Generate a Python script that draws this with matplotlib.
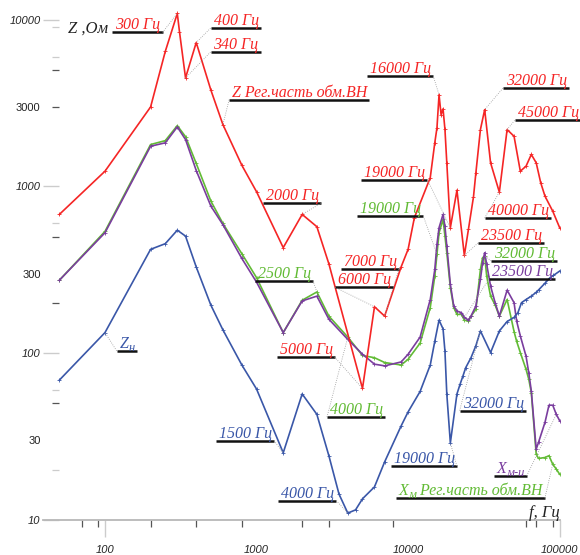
import matplotlib
matplotlib.use('Agg')
import matplotlib.pyplot as plt
from matplotlib.ticker import FixedLocator, NullFormatter
from matplotlib.transforms import IdentityTransform

# Z of the regulating part of the HV winding, Ohm
f_z = [50, 100, 200, 250, 300, 310, 340, 400, 500, 600,
       800, 1000, 1500, 2000, 2500, 3000, 5000, 6000, 7000, 9000,
       10000, 11000, 14000, 15000, 15500, 16000, 16500, 17000, 17500, 18000,
       19000, 21000, 23500, 25000, 27000, 28000, 30000, 32000, 35000, 40000,
       45000, 50000, 55000, 60000, 65000, 70000, 75000, 80000, 90000, 100000]
z_reg = [680, 1235, 3000, 6460, 10900, 8500, 4480, 7300, 3780, 2350,
         1340, 930, 430, 680, 574, 344, 61.5, 190, 167, 330,
         420, 650, 1130, 1830, 2245, 3550, 2700, 2920, 2200, 1390,
         566, 950, 386, 553, 867, 1208, 2195, 2890, 1387, 925,
         2195, 2000, 1235, 1324, 1556, 1387, 1052, 875, 711, 566]

# load impedance Z_н
f_load = [50, 100, 200, 250, 300, 340, 400, 500, 600, 800,
          1000, 1500, 2000, 2500, 3000, 3500, 4000, 4500, 5000, 6000,
          7000, 9000, 10000, 12000, 14000, 15000, 16000, 17000, 17500, 18000,
          19000, 21000, 22000, 23000, 24000, 26000, 28000, 30000, 35000, 40000,
          45000, 50000, 53000, 56000, 60000, 65000, 70000, 73000, 80000, 86000,
          91000, 100000]
z_load = [69, 133, 420, 454, 547, 504, 329, 194, 138, 85,
          61, 25.3, 57, 43, 24.3, 14.3, 11.0, 11.5, 13.4, 15.8,
          22.3, 36.7, 44.5, 59, 85, 118, 158, 140, 103, 57,
          29, 57, 65, 73, 82, 94, 111, 136, 101, 136,
          155, 164, 175, 201, 210, 220, 232, 241, 263, 283,
          293, 311]

# magnetising reactances X_м and X_м-и
f_x = [50, 100, 200, 250, 300, 340, 400, 500, 600, 800,
       1000, 1500, 2000, 2500, 3000, 4000, 5000, 6000, 7000, 9000,
       10000, 12000, 14000, 15000, 15500, 16000, 17000, 17500, 18000, 19000,
       20000, 21000, 22500, 23500, 25000, 26000, 28000, 30000, 31000, 32000,
       33000, 35000, 37500, 40000, 45000, 50000, 52000, 55000, 60000, 62500,
       65000, 70000, 72500, 80000, 85000, 90000, 95000, 100000]
x_mi = [274, 528, 1744, 1828, 2277, 1912, 1247, 762, 590, 370,
        267, 133, 206, 220, 160, 121, 98.6, 86, 84, 88.7,
        98.6, 125, 210, 318, 450, 566, 680, 578, 440, 259,
        192, 179, 175, 164, 158, 167, 192, 277, 349, 401,
        341, 253, 201, 167, 239, 201, 156, 127, 96, 76.5,
        59.4, 26.6, 29.2, 38.5, 48.8, 48.8, 43, 39.4]
x_reg = [274, 538, 1785, 1884, 2318, 1990, 1374, 817, 600, 395,
         284, 133, 208, 233, 167, 125, 97, 94, 88, 85,
         92, 115, 188, 290, 392, 528, 634, 504, 401, 247,
         188, 171, 171, 158, 156, 167, 183, 318, 374, 383,
         290, 220, 195, 167, 210, 135, 118, 101, 80, 70,
         58, 24.8, 23.4, 23.7, 24.3, 21.6, 20.2, 18.8]

y_ticks = [10, 30, 100, 300, 1000, 3000, 10000]
y_minor = [9000, 6000, 5000, 3000, 600, 500, 200, 60, 50, 20]
x_ticks = [100, 1000, 10000, 100000]
x_minor = [70, 90, 200, 400, 800, 2000, 3000, 8000, 60000, 70000, 90000]

RED = '#f52525'
GREEN = '#62bb35'
PURPLE = '#7a3d9e'
BLUE = '#3a57a8'
LIGHT = '#cccccc'
DARK = '#555555'

fig = plt.figure(figsize=(5.8, 5.55), dpi=100)
ax = fig.add_axes([43 / 580, 35 / 555, 517 / 580, 517 / 555])
ax.set_xscale('log')
ax.set_yscale('log')
ax.set_xlim(39, 100500)
ax.set_ylim(10, 12600)

line_kw = dict(lw=1.2, marker='+', ms=3, mew=0.6)
ax.plot(f_x, x_reg, color=GREEN, **line_kw)
ax.plot(f_x, x_mi, color=PURPLE, **line_kw)
ax.plot(f_load, z_load, color=BLUE, **line_kw)
ax.plot(f_z, z_reg, color=RED, **line_kw)

# axes styling
for s in ('top', 'right'):
    ax.spines[s].set_visible(False)
ax.spines['left'].set_position(('data', 50))
ax.spines['left'].set_color('none')
ax.spines['bottom'].set_color('#b8b8b8')
ax.spines['bottom'].set_linewidth(1.3)

ax.yaxis.remove_overlapping_locs = False
ax.xaxis.remove_overlapping_locs = False

ax.yaxis.set_major_locator(FixedLocator(y_ticks))
ax.yaxis.set_minor_locator(FixedLocator(y_minor))
ax.yaxis.set_minor_formatter(NullFormatter())
ax.set_yticklabels([str(v) for v in y_ticks])
ax.tick_params(axis='y', which='major', length=11.5, width=1.0, pad=2,
               labelsize=8, labelcolor='#222222')
ax.tick_params(axis='y', which='minor', length=5, width=0.9)

ax.xaxis.set_major_locator(FixedLocator(x_ticks))
ax.xaxis.set_minor_locator(FixedLocator(x_minor))
ax.xaxis.set_minor_formatter(NullFormatter())
ax.set_xticklabels([str(v) for v in x_ticks])
ax.tick_params(axis='x', which='major', length=12, width=1.0, pad=6,
               labelsize=8, labelcolor='#222222')
ax.tick_params(axis='x', which='minor', length=5, width=0.9)


def style_tick(tick, color):
    if color is None:
        tick.tick1line.set_markersize(0)
    else:
        tick.tick1line.set_markeredgecolor(color)


for tick, v in zip(ax.yaxis.get_major_ticks(len(y_ticks)), y_ticks):
    tick.label1.set_family('Liberation Sans')
    if v in (10, 100, 1000, 10000):
        style_tick(tick, LIGHT)
        tick.label1.set_fontstyle('italic')
    else:
        style_tick(tick, None)
for tick, v in zip(ax.yaxis.get_minor_ticks(len(y_minor)), y_minor):
    style_tick(tick, LIGHT if v in (9000, 6000, 600, 60, 20) else DARK)

for tick, v in zip(ax.xaxis.get_major_ticks(len(x_ticks)), x_ticks):
    tick.label1.set_family('Liberation Sans')
    tick.label1.set_fontstyle('italic')
    style_tick(tick, LIGHT if v in (100, 100000) else None)
for tick in ax.xaxis.get_minor_ticks(len(x_minor)):
    style_tick(tick, DARK)

rend = fig.canvas.get_renderer()
ident = IdentityTransform()


def tag(runs, color, anchor, target, side):
    """Underlined italic caption with a dotted leader to a curve point."""
    x0, y0 = ax.transData.transform(anchor)
    x = x0 + 3
    for txt, size, rise in runs:
        t = ax.text(x, y0 + 3 + rise, txt, transform=ident, color=color,
                    fontsize=size, fontstyle='italic', family='Liberation Serif',
                    va='baseline', ha='left', clip_on=False)
        x = t.get_window_extent(rend).x1
    x1 = x + 2
    ax.plot([x0, x1], [y0, y0], transform=ident, color='#111111', lw=1.8,
            solid_capstyle='butt', clip_on=False)
    tx, ty = ax.transData.transform(target)
    sx = x0 if side == 'left' else x1
    ax.plot([sx, tx], [y0, ty], transform=ident, color='#999999', lw=0.6,
            ls=':', clip_on=False)


FS = 11.5
SUB = 9
# red captions
tag([('300 Гц', FS, 0)], RED, (112, 8400), (300, 10900), 'right')
tag([('400 Гц', FS, 0)], RED, (497, 8900), (400, 7300), 'left')
tag([('340 Гц', FS, 0)], RED, (497, 6400), (340, 4480), 'left')
tag([('Z Рег.часть обм.ВН', FS, 0)], RED, (659, 3310), (600, 2350), 'left')
tag([('2000 Гц', FS, 0)], RED, (1105, 795), (2000, 680), 'right')
tag([('7000 Гц', FS, 0)], RED, (3594, 320), (7000, 167), 'right')
tag([('6000 Гц', FS, 0)], RED, (3281, 249), (6000, 190), 'left')
tag([('5000 Гц', FS, 0)], RED, (1355, 94.8), (5000, 61.5), 'right')
tag([('16000 Гц', FS, 0)], RED, (5360, 4610), (16000, 3550), 'right')
tag([('32000 Гц', FS, 0)], RED, (42240, 3890), (32000, 2890), 'left')
tag([('45000 Гц', FS, 0)], RED, (50440, 2490), (45000, 2195), 'left')
tag([('19000 Гц', FS, 0)], RED, (4914, 1097), (19000, 566), 'right')
tag([('40000 Гц', FS, 0)], RED, (31990, 646), (40000, 925), 'left')
tag([('23500 Гц', FS, 0)], RED, (28900, 458), (23500, 386), 'left')
# green captions
tag([('2500 Гц', FS, 0)], GREEN, (975, 272), (2500, 233), 'right')
tag([('19000 Гц', FS, 0)], GREEN, (4624, 661), (15500, 392), 'right')
tag([('4000 Гц', FS, 0)], GREEN, (2916, 41.4), (4000, 125), 'left')
tag([('32000 Гц', FS, 0)], GREEN, (35330, 358), (32000, 383), 'left')
tag([('X', FS, 0), ('м', SUB, -3), (' Рег.часть обм.ВН', FS, 0)], GREEN,
    (8280, 13.5), (90000, 21.6), 'right')
# purple captions
tag([('23500 Гц', FS, 0)], PURPLE, (34090, 278), (23500, 164), 'left')
tag([('X', FS, 0), ('м-и', SUB, -3)], PURPLE, (36660, 18.4), (95000, 43), 'right')
# blue captions
tag([('Z', FS, 0), ('н', SUB, -3)], BLUE, (119.4, 103.4), (100, 133), 'left')
tag([('1500 Гц', FS, 0)], BLUE, (539, 29.9), (1500, 25.3), 'right')
tag([('4000 Гц', FS, 0)], BLUE, (1388, 13.08), (4000, 11.0), 'right')
tag([('19000 Гц', FS, 0)], BLUE, (7678, 21.1), (19000, 29), 'right')
tag([('32000 Гц', FS, 0)], BLUE, (21880, 45.3), (30000, 136), 'left')

# axis captions
ax.text(57, 8400, 'Z ,Ом', fontsize=12, fontstyle='italic', family='Liberation Serif',
        color='#222222', va='baseline', clip_on=False)
ax.text(63000, 10.4, 'f, Гц', fontsize=12, fontstyle='italic', family='Liberation Serif',
        color='#222222', va='baseline', clip_on=False)

fig.savefig('out.png', dpi=100)
